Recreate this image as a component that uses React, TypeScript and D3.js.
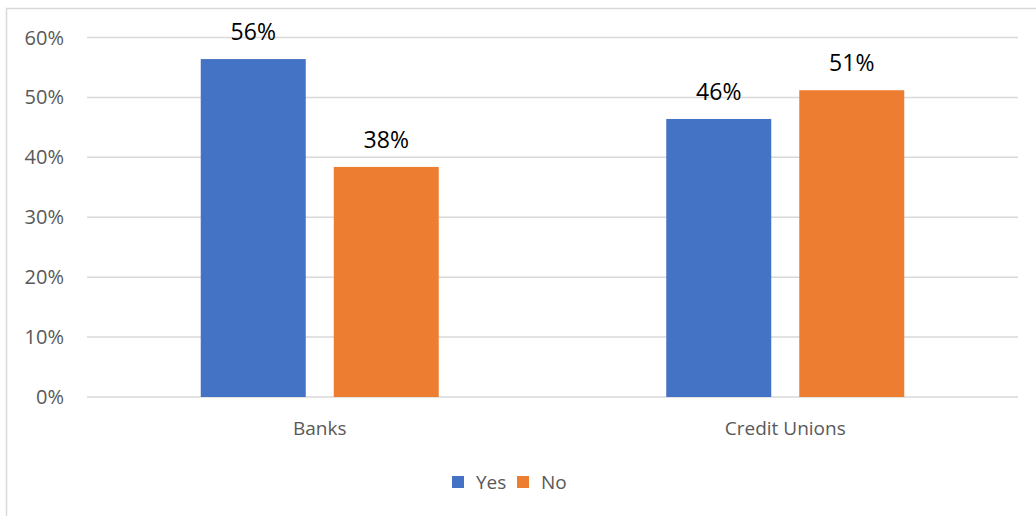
import React from "react";
import * as d3 from "d3";

const categories = ["Banks", "Credit Unions"];
const seriesNames = ["Yes", "No"];
const yesValues = [0.564, 0.464];
const noValues = [0.384, 0.512];
const yTicks = [0, 0.1, 0.2, 0.3, 0.4, 0.5, 0.6];
const colors = ["#4472C4", "#ED7D31"];

const W = 1036;
const H = 516;
const FONT = "'Open Sans', 'Liberation Sans', sans-serif";

export default function App() {
  const left = 87;
  const right = 1018;
  const top = 37.5;
  const bottom = 397;
  const x0 = d3.scaleBand<string>().domain(categories).range([left, right]).paddingInner(0).paddingOuter(0);
  const y = d3.scaleLinear().domain([0, 0.6]).range([bottom, top]);
  const barW = 105;
  const gap = 28;
  const x1 = d3
    .scaleOrdinal<string, number>()
    .domain(seriesNames)
    .range([-(gap / 2) - barW, gap / 2]);
  const series = [yesValues, noValues];
  const fmt = d3.format(".0%");

  return (
    <svg
      width={W}
      height={H}
      style={{ position: "absolute", left: 0, top: 0, background: "#fff" }}
      fontFamily={FONT}
    >
      <rect x={6.5} y={8.5} width={1100} height={600} fill="#fff" stroke="#d9d9d9" strokeWidth={1.5} />
      {yTicks.map((t) => (
        <g key={t}>
          <line x1={left} x2={right} y1={y(t)} y2={y(t)} stroke="#d9d9d9" strokeWidth={1.5} />
          <text x={64} y={y(t)} dy="0.35em" textAnchor="end" fontSize={20} fill="#595959">
            {fmt(t)}
          </text>
        </g>
      ))}
      {categories.map((c, ci) => {
        const cx = (x0(c) as number) + x0.bandwidth() / 2;
        return (
          <g key={c}>
            {seriesNames.map((s, si) => {
              const v = series[si][ci];
              const bx = cx + x1(s);
              return (
                <g key={s}>
                  <rect x={bx} y={y(v)} width={barW} height={y(0) - y(v)} fill={colors[si]} />
                  <text
                    x={bx + barW / 2}
                    y={y(v) - 19}
                    textAnchor="middle"
                    fontSize={23}
                    fill="#000"
                  >
                    {fmt(Math.floor(v * 100) / 100)}
                  </text>
                </g>
              );
            })}
            <text x={cx} y={428} dy="0.35em" textAnchor="middle" fontSize={19} fill="#595959">
              {c}
            </text>
          </g>
        );
      })}
      {seriesNames.map((s, si) => {
        const lx = si === 0 ? 452 : 517;
        return (
          <g key={s}>
            <rect x={lx} y={476} width={12} height={12} fill={colors[si]} />
            <text x={lx + 24} y={482} dy="0.35em" fontSize={19} fill="#595959">
              {s}
            </text>
          </g>
        );
      })}
    </svg>
  );
}
